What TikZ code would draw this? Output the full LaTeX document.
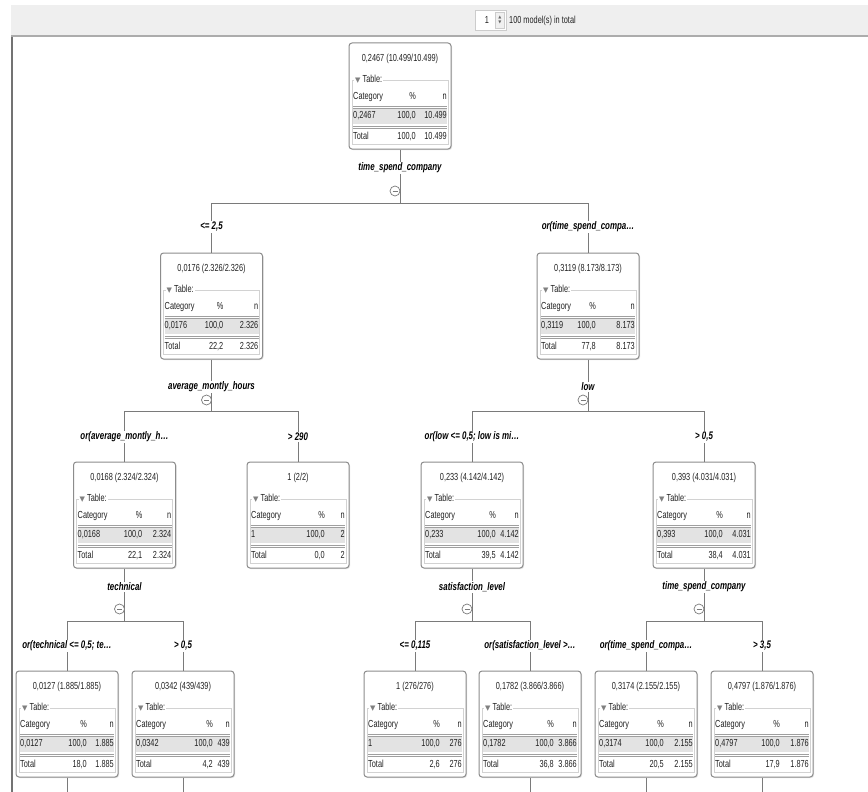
\documentclass[tikz,border=0pt]{standalone}
\usepackage{fontspec}
\setmainfont{Liberation Sans}[FakeStretch=0.72]
\newfontfamily\symfont{DejaVu Sans}
\usetikzlibrary{shadows}

\definecolor{boxgray}{HTML}{8C8C8C}
\definecolor{linegray}{HTML}{7A7A7A}
\definecolor{textgray}{HTML}{222222}
\definecolor{barbg}{HTML}{EFEFEF}

% one model box: name, x, top, category, n, total %, x of the % column
\newcommand\treebox[7]{%
\begin{scope}[shift={(#2,#3)}]
\node[box] (#1) at (0,53) {};
\node[boxtext] at (0,16) {#4 (#5/#5)};
\draw[grp] (-48,37) rectangle (48,101);
\node[boxtext,fill=white,inner xsep=1,anchor=mid west] at (-46,37) {{\symfont\fontsize{7}{7}\selectfont\color{gray}▼} Table:};
\node[boxtext,anchor=mid west] at (-47,54) {Category};
\node[boxtext,anchor=mid east] at (#7,54) {\%};
\node[boxtext,anchor=mid east] at (47,54) {n};
\fill[rowbg] (-47,66) rectangle (47,81);
\draw[dbl] (-47,63) -- (47,63) (-47,65.5) -- (47,65.5);
\node[boxtext,anchor=mid west] at (-47,73) {#4};
\node[boxtext,anchor=mid east] at (#7,73) {100,0};
\node[boxtext,anchor=mid east] at (47,73) {#5};
\draw[dbl] (-47,83) -- (47,83) (-47,85.5) -- (47,85.5);
\node[boxtext,anchor=mid west] at (-47,94) {Total};
\node[boxtext,anchor=mid east] at (#7,94) {#6};
\node[boxtext,anchor=mid east] at (47,94) {#5};
\end{scope}}

\begin{document}
\begin{tikzpicture}[x=1pt,y=-1pt,
  box/.style={draw=boxgray,line width=1,rounded corners=3,fill=white,minimum width=102,minimum height=106,inner sep=0,
    drop shadow={shadow xshift=1pt,shadow yshift=-1pt,opacity=.25}},
  boxtext/.style={inner sep=0,text=textgray,font=\fontsize{10.2}{12}\selectfont},
  grp/.style={draw=gray!35,line width=.8},
  rowbg/.style={fill=gray!22},
  dbl/.style={draw=gray!75,line width=1},
  conn/.style={draw=linegray,line width=1},
  split/.style={fill=white,inner sep=1,font=\fontsize{11}{13}\selectfont\bfseries\itshape},
  minus/.style={circle,draw=linegray,line width=.7,fill=white,minimum size=10,inner sep=0,
    path picture={\draw[linegray,line width=.7] ([xshift=-2.5pt]path picture bounding box.center) -- ([xshift=2.5pt]path picture bounding box.center);}}]

\useasboundingbox (0,0) rectangle (868,792);
\fill[white] (0,0) rectangle (868,792);

% toolbar
\fill[barbg] (11,5) rectangle (868,35);
\draw[gray!65,line width=2] (11,36) -- (868,36);
\draw[gray!90!black,line width=1.5] (12,37) -- (12,792);
\node[draw=gray!40,fill=white,minimum width=31,minimum height=20,inner sep=0] (spin) at (490.5,20) {};
\node[boxtext] (spinval) at (487,20) {1};
\node[draw=gray!40,fill=gray!12,minimum width=9,minimum height=16,inner sep=0,font=\symfont\fontsize{4}{5}\selectfont,align=center,text=gray!80!black] (spinarrows) at (500,20) {▲\\▼};
\node[boxtext,anchor=mid west] (models) at (509,21) {100 model(s) in total};

% boxes
\treebox{root}{400}{43}{0,2467}{10.499}{100,0}{16}
\treebox{t1}{211.5}{253}{0,0176}{2.326}{22,2}{12}
\treebox{t2}{588}{253}{0,3119}{8.173}{77,8}{8}
\treebox{t11}{124.5}{462}{0,0168}{2.324}{22,1}{18}
\treebox{t12}{298}{462}{1}{2}{0,0}{27}
\treebox{t21}{472}{462}{0,233}{4.142}{39,5}{24}
\treebox{t22}{704}{462}{0,393}{4.031}{38,4}{19}
\treebox{t111}{67}{671}{0,0127}{1.885}{18,0}{20}
\treebox{t112}{183}{671}{0,0342}{439}{4,2}{30}
\treebox{t211}{415}{671}{1}{276}{2,6}{25}
\treebox{t212}{530}{671}{0,1782}{3.866}{36,8}{24}
\treebox{t221}{646}{671}{0,3174}{2.155}{20,5}{18}
\treebox{t222}{762}{671}{0,4797}{1.876}{17,9}{18}

% connectors
\coordinate (j0) at (400,203);
\coordinate (j1) at (211.5,411);
\coordinate (j2) at (588,411);
\coordinate (j11) at (124.5,621);
\coordinate (j21) at (472,621);
\coordinate (j22) at (704,621);
\coordinate (bottom) at (0,792);
\draw[conn] (root.south) -- (j0) -| (t1.north);
\draw[conn] (j0) -| (t2.north);
\draw[conn] (t1.south) -- (j1) -| (t11.north);
\draw[conn] (j1) -| (t12.north);
\draw[conn] (t2.south) -- (j2) -| (t21.north);
\draw[conn] (j2) -| (t22.north);
\draw[conn] (t11.south) -- (j11) -| (t111.north);
\draw[conn] (j11) -| (t112.north);
\draw[conn] (t21.south) -- (j21) -| (t211.north);
\draw[conn] (j21) -| (t212.north);
\draw[conn] (t22.south) -- (j22) -| (t221.north);
\draw[conn] (j22) -| (t222.north);
\draw[conn] (t111.south) -- (t111.south |- bottom);
\draw[conn] (t112.south) -- (t112.south |- bottom);
\draw[conn] (t212.south) -- (t212.south |- bottom);
\draw[conn] (t221.south) -- (t221.south |- bottom);
\draw[conn] (t222.south) -- (t222.south |- bottom);

% split attributes
\node[split] (s0) at (400,168) {time\_spend\_company};
\node[split] (s1) at (211.5,387) {average\_montly\_hours};
\node[split] (s2) at (588,387) {low};
\node[split] (s11) at (124.5,587) {technical};
\node[split] (s21) at (472,587) {satisfaction\_level};
\node[split] (s22) at (704,587) {time\_spend\_company};
\node[minus] (m0) at (395,191) {};
\node[minus] (m1) at (206.5,400) {};
\node[minus] (m2) at (583,400) {};
\node[minus] (m11) at (119.5,609) {};
\node[minus] (m21) at (467,609) {};
\node[minus] (m22) at (699,609) {};

% branch conditions
\node[split] (b1) at (211.5,227) {<= 2,5};
\node[split] (b2) at (588,227) {or(time\_spend\_compa…};
\node[split] (b11) at (124.5,437) {or(average\_montly\_h…};
\node[split] (b12) at (298,437) {> 290};
\node[split] (b21) at (472,437) {or(low <= 0,5; low is mi…};
\node[split] (b22) at (704,437) {> 0,5};
\node[split] (b111) at (67,646) {or(technical <= 0,5; te…};
\node[split] (b112) at (183,646) {> 0,5};
\node[split] (b211) at (415,646) {<= 0,115};
\node[split] (b212) at (530,646) {or(satisfaction\_level >…};
\node[split] (b221) at (646,646) {or(time\_spend\_compa…};
\node[split] (b222) at (762,646) {> 3,5};

\end{tikzpicture}
\end{document}
